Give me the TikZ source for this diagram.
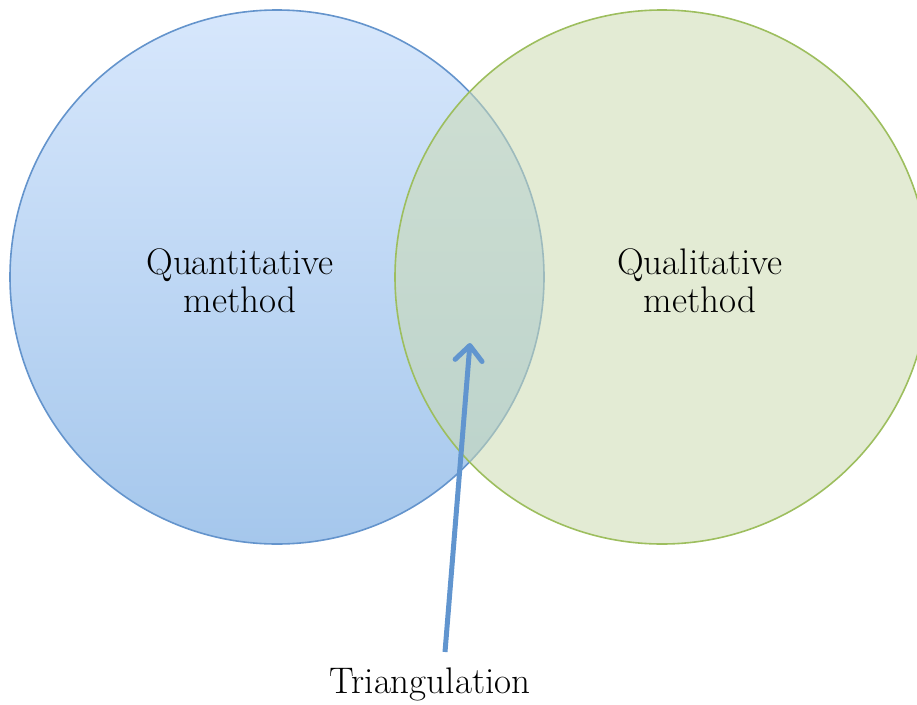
\documentclass[tikz,border=0pt]{standalone}
\usetikzlibrary{arrows.meta}
\definecolor{quanttop}{HTML}{D7E7FC}
\definecolor{quantbot}{HTML}{A5C7EC}
\definecolor{quantline}{HTML}{6494CC}
\definecolor{qualfill}{HTML}{CCDBB1}
\definecolor{qualline}{HTML}{9DBE5E}
\definecolor{arrowblue}{HTML}{6195CF}
\tikzset{
  setcircle/.style={circle, minimum size=534pt, inner sep=0pt, line width=1.6pt},
  label/.style={font=\fontsize{37}{38}\selectfont, align=center}
}
\begin{document}
\begin{tikzpicture}[x=1pt,y=-1pt]
      \clip (0,0) rectangle (917,704);
      \node[setcircle, draw=quantline, top color=quanttop, bottom color=quantbot] (quant) at(277, 277){};
      \node[setcircle, draw=qualline, fill=qualfill, fill opacity=0.55] (qual) at(662, 277){};
      \node[label] (quanttext) at(240, 281){Quantitative\\method};
      \node[label] (qualtext) at(700, 281){Qualitative\\method};
      \node[label] (tri) at(430, 684){Triangulation};
      \coordinate (tip) at(470, 343);
      \draw[arrowblue, line width=5pt, -{Straight Barb[length=15pt,width=27pt,round]}] (445, 652) -- (tip);
    \end{tikzpicture}
\end{document}
